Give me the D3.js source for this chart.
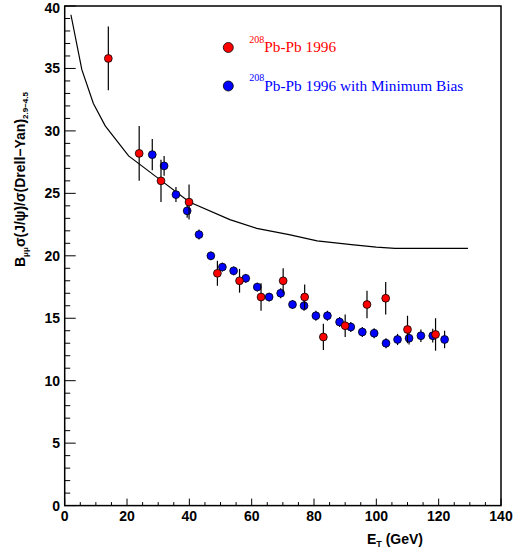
<!DOCTYPE html>
<html><head><meta charset="utf-8">
<script src="https://cdn.jsdelivr.net/npm/d3@7"></script>
<style>body{margin:0;background:#fff}</style>
</head><body>
<svg id="c" width="515" height="550"></svg>
<script>
// Data
const redX   = [14.0, 23.9, 30.9, 39.9, 49.0, 56.1, 63.0, 70.1, 77.0, 83.0, 90.0, 97.0, 103.0, 110.0, 119.0];
const redY   = [35.8, 28.2, 26.0, 24.3, 18.6, 18.0, 16.7, 18.0, 16.7, 13.5, 14.4, 16.1, 16.6, 14.1, 13.7];
const redErr = [2.55, 2.2, 1.7, 1.4, 1.0, 0.95, 1.1, 1.0, 1.0, 1.05, 0.9, 1.1, 1.3, 1.1, 1.3];
const blueX   = [28.1, 31.9, 35.7, 39.3, 43.1, 46.9, 50.6, 54.2, 58.1, 61.8, 65.6, 69.3, 73.1, 76.8, 80.6, 84.3, 88.2, 91.8, 95.5, 99.3, 103.1, 106.8, 110.5, 114.3, 118.1, 121.9];
const blueY   = [28.1, 27.2, 24.9, 23.6, 21.7, 20.0, 19.1, 18.8, 18.2, 17.5, 16.7, 17.0, 16.1, 16.0, 15.2, 15.2, 14.7, 14.3, 13.9, 13.8, 13.0, 13.3, 13.4, 13.6, 13.6, 13.3];
const blueErr = [1.25, 0.8, 0.6, 0.55, 0.4, 0.35, 0.35, 0.35, 0.35, 0.35, 0.35, 0.4, 0.35, 0.4, 0.4, 0.4, 0.4, 0.4, 0.4, 0.4, 0.4, 0.45, 0.5, 0.5, 0.55, 0.7];
const curveX = [2, 5.5, 9.2, 13, 20.5, 29.5, 40, 53, 61.6, 72, 81, 92, 100, 106, 129.4];
const curveY = [39.3, 34.9, 32.2, 30.4, 28.0, 26.3, 24.3, 22.9, 22.2, 21.7, 21.2, 20.9, 20.7, 20.6, 20.6];
const xTicks = [0, 20, 40, 60, 80, 100, 120, 140];
const yTicks = [0, 5, 10, 15, 20, 25, 30, 35, 40];
const legendLabels = ["Pb-Pb 1996", "Pb-Pb 1996 with Minimum Bias"];

const svg = d3.select("#c");
const L = 64.7, R = 501, T = 6, B = 505.6;
const x = d3.scaleLinear().domain([0, 140]).range([L, R]);
const y = d3.scaleLinear().domain([0, 40]).range([B, T]);
const tickFont = "'Liberation Sans', Arial, sans-serif";

// frame
svg.append("rect").attr("x", L).attr("y", T).attr("width", R - L).attr("height", B - T)
  .attr("fill", "none").attr("stroke", "#000").attr("stroke-width", 1.5);

// x axis ticks (inside)
const xMinor = d3.range(0, 141, 5);
svg.append("g").selectAll("line").data(xMinor).join("line")
  .attr("x1", d => x(d)).attr("x2", d => x(d))
  .attr("y1", B).attr("y2", d => B - (d % 20 === 0 ? 7 : 3.5))
  .attr("stroke", "#000").attr("stroke-width", 1);
svg.append("g").selectAll("text").data(xTicks).join("text")
  .attr("x", d => x(d)).attr("y", 521).attr("text-anchor", "middle")
  .attr("font-family", tickFont).attr("font-weight", "bold").attr("font-size", 14)
  .text(d => d);

// y axis ticks (inside)
const yMinor = d3.range(0, 41, 1);
svg.append("g").selectAll("line").data(yMinor).join("line")
  .attr("y1", d => y(d)).attr("y2", d => y(d))
  .attr("x1", L).attr("x2", d => L + (d % 5 === 0 ? 11 : 5.5))
  .attr("stroke", "#000").attr("stroke-width", 1);
svg.append("g").selectAll("text").data(yTicks).join("text")
  .attr("x", 60).attr("y", d => Math.max(y(d) + 5, 13)).attr("text-anchor", "end")
  .attr("font-family", tickFont).attr("font-weight", "bold").attr("font-size", 14)
  .text(d => d);

// axis titles
const xt = svg.append("text").attr("x", 423).attr("y", 544).attr("text-anchor", "end")
  .attr("font-family", tickFont).attr("font-weight", "bold").attr("font-size", 14);
xt.append("tspan").text("E");
xt.append("tspan").attr("font-size", 9).attr("dy", 3).text("T");
xt.append("tspan").attr("dy", -3).text(" (GeV)");

const yt = svg.append("text").attr("transform", "translate(25,267) rotate(-90)")
  .attr("text-anchor", "start")
  .attr("font-family", tickFont).attr("font-weight", "bold").attr("font-size", 14);
yt.append("tspan").text("B");
yt.append("tspan").attr("font-size", 8).attr("dy", 3).text("μμ");
yt.append("tspan").attr("dy", -3).text("σ(J/ψ)/σ(Drell−Yan)");
yt.append("tspan").attr("font-size", 8).attr("dy", 3).text("2.9−4.5");

// curve
const line = d3.line().x(d => x(d[0])).y(d => y(d[1]));
svg.append("path").datum(curveX.map((v, i) => [v, curveY[i]]))
  .attr("d", line).attr("fill", "none").attr("stroke", "#000").attr("stroke-width", 1.2);

function series(xs, ys, es, color) {
  const g = svg.append("g");
  const data = xs.map((v, i) => ({x: v, y: ys[i], e: es[i]}));
  g.selectAll("line").data(data).join("line")
    .attr("x1", d => x(d.x)).attr("x2", d => x(d.x))
    .attr("y1", d => y(d.y - d.e)).attr("y2", d => y(d.y + d.e))
    .attr("stroke", "#000").attr("stroke-width", 1.2);
  g.selectAll("circle").data(data).join("circle")
    .attr("cx", d => x(d.x)).attr("cy", d => y(d.y)).attr("r", 3.9)
    .attr("fill", color).attr("stroke", "#000").attr("stroke-width", 0.8);
}
series(blueX, blueY, blueErr, "#0000ff");
series(redX, redY, redErr, "#ff0000");

// legend
const legendColors = ["#ff0000", "#0000ff"];
const legY = [47.5, 86];
legendLabels.forEach((lab, i) => {
  svg.append("circle").attr("cx", 228.3).attr("cy", legY[i]).attr("r", 5)
    .attr("fill", legendColors[i]).attr("stroke", "#000").attr("stroke-width", 0.8);
  const t = svg.append("text").attr("x", 249.3).attr("y", legY[i] + 4.5)
    .attr("font-family", "'Liberation Serif', 'Times New Roman', serif").attr("font-size", 15.3)
    .attr("fill", legendColors[i]);
  t.append("tspan").attr("font-size", 10).attr("dy", -9.5).text("208");
  t.append("tspan").attr("dy", 9.5).text(lab);
});
</script>
</body></html>
